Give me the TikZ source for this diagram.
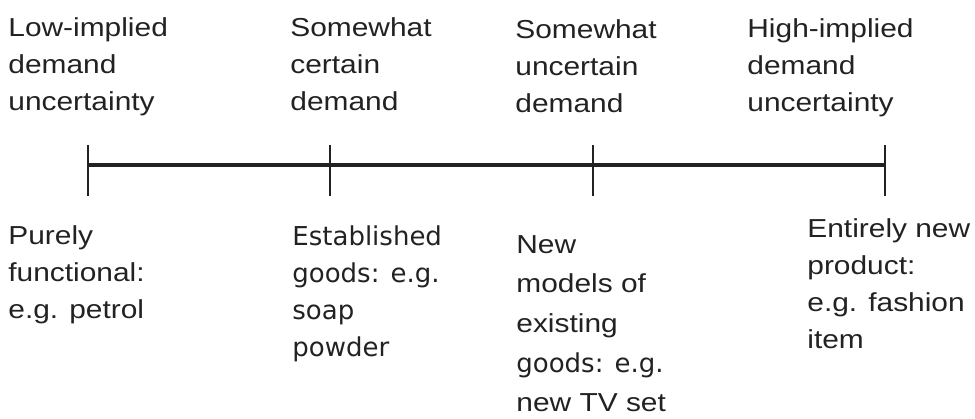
\documentclass[tikz,border=0pt]{standalone}
\usepackage{fontspec}
\setmainfont{Liberation Sans}[FakeStretch=1.15]
\newfontfamily\handfont{DejaVu Sans}
\usetikzlibrary{calc}
\definecolor{InkClr}{HTML}{222222}

\begin{document}
\begin{tikzpicture}[x=0.5pt,y=-0.5pt,
  every node/.style={anchor=north west,inner sep=0pt,align=left,text=InkClr,
    font=\fontsize{13}{18.5}\selectfont}]
\useasboundingbox (0,0) rectangle (975,418);

% scale of uncertainty
\coordinate (T1) at (88,165);
\coordinate (T2) at (330,165);
\coordinate (T3) at (593,165);
\coordinate (T4) at (885,165);
\draw[line width=2pt,InkClr] (T1) -- (T4);
\foreach \t in {T1,T2,T3,T4}
  \draw[line width=0.75pt,InkClr] ($(\t)+(0,-20)$) -- ($(\t)+(0,31)$);

% labels above
\node (lowU) at (8,17) {Low-implied\\demand\\uncertainty};
\node (someC) at (290,17) {Somewhat\\certain\\demand};
\node (someU) at (515,19) {Somewhat\\uncertain\\demand};
\node (highU) at (747,18) {High-implied\\demand\\uncertainty};

% examples below
\node (petrol) at (8,225) {Purely\\functional:\\e.g. petrol};
\node (soap) at (292,225) {\handfont Established\\\handfont goods: e.g.\\\handfont soap\\\handfont powder};
\node[font=\fontsize{13}{19.8}\selectfont] (tvset) at (516,235)
  {New\\models of\\existing\\{\handfont goods: e.g.}\\new TV set};
\node (fashion) at (807,218) {Entirely new\\product:\\e.g. fashion\\item};
\end{tikzpicture}
\end{document}
